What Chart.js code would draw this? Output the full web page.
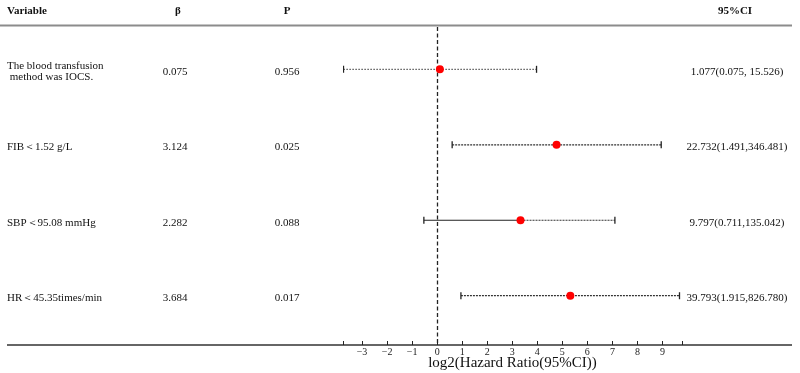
<!DOCTYPE html>
<html>
<head>
<meta charset="utf-8">
<script src="https://cdn.jsdelivr.net/npm/chart.js@4.4.0/dist/chart.umd.min.js"></script>
<style>
  html, body { margin: 0; padding: 0; background: #fff; }
  #wrap { width: 800px; height: 373px; position: relative; }
</style>
</head>
<body>
<div id="wrap"><canvas id="forest"></canvas></div>
<script>
// table columns
const variables = [['The blood transfusion', ' method was IOCS.'], ['FIB＜1.52 g/L'], ['SBP＜95.08 mmHg'], ['HR＜45.35times/min']];
const betas = ['0.075', '3.124', '2.282', '3.684'];
const pValues = ['0.956', '0.025', '0.088', '0.017'];
const ciLabels = ['1.077(0.075, 15.526)', '22.732(1.491,346.481)', '9.797(0.711,135.042)', '39.793(1.915,826.780)'];

// log2(HR) and CI ends
const log2HR = [0.11, 4.77, 3.33, 5.32];
const log2Lower = [-3.74, 0.6, -0.53, 0.95];
const log2Upper = [3.97, 8.95, 7.1, 9.68];

// x axis
const tickValues = [-3, -2, -1, 0, 1, 2, 3, 4, 5, 6, 7, 8, 9];
const axisMin = -3.76;
const axisMax = 9.78;

// line styles per row (SBP has a solid left half)
const dashes = [[1.2, 1.8], [2, 1], [2, 1], [2, 1]];
const solidLeft = [false, false, true, false];

const serif = 'Liberation Serif';

const whiskers = variables.map(function(v, i) {
  return {
    type: 'line',
    order: 1,
    data: [{x: log2Lower[i], y: i}, {x: log2HR[i], y: i}, {x: log2Upper[i], y: i}],
    borderColor: '#333',
    borderWidth: 1.2,
    borderDash: dashes[i],
    segment: {
      borderDash: ctx => (solidLeft[i] && ctx.p0DataIndex === 0) ? [] : dashes[i],
      borderColor: ctx => (solidLeft[i] && ctx.p0DataIndex === 0) ? '#222' : '#333'
    },
    pointStyle: 'line',
    pointRotation: 90,
    pointRadius: [3.5, 0, 3.5],
    pointBorderColor: '#222',
    pointBorderWidth: 1.3,
    fill: false,
    tension: 0
  };
});

const dots = {
  type: 'scatter',
  order: 0,
  data: log2HR.map((x, i) => ({x: x, y: i})),
  pointRadius: 4,
  pointBackgroundColor: '#ff0000',
  pointBorderWidth: 0
};

// table text, rules, zero line and tick marks
const tablePlugin = {
  id: 'table',
  beforeDatasetsDraw(chart) {
    const ctx = chart.ctx;
    const x = chart.scales.x;
    const area = chart.chartArea;
    const px = Math.round(x.getPixelForValue(0)) + 0.5;
    ctx.save();
    ctx.strokeStyle = '#222';
    ctx.lineWidth = 1.3;
    ctx.setLineDash([4, 2.5]);
    ctx.beginPath();
    ctx.moveTo(px, area.top + 1);
    ctx.lineTo(px, area.bottom);
    ctx.stroke();
    ctx.restore();
  },
  afterDraw(chart) {
    const ctx = chart.ctx;
    const x = chart.scales.x;
    const y = chart.scales.y;
    const area = chart.chartArea;
    ctx.save();

    // rules
    ctx.lineWidth = 2;
    ctx.strokeStyle = '#8c8c8c';
    ctx.beginPath();
    ctx.moveTo(0, 25.5);
    ctx.lineTo(792, 25.5);
    ctx.stroke();
    ctx.strokeStyle = '#666';
    ctx.beginPath();
    ctx.moveTo(7, area.bottom);
    ctx.lineTo(792, area.bottom);
    ctx.stroke();

    // tick marks pointing up
    ctx.lineWidth = 1;
    ctx.strokeStyle = '#222';
    x.ticks.forEach(function(t) {
      const px = Math.round(x.getPixelForValue(t.value)) + 0.5;
      ctx.beginPath();
      ctx.moveTo(px, area.bottom - 4);
      ctx.lineTo(px, area.bottom);
      ctx.stroke();
    });

    // header
    ctx.fillStyle = '#111';
    ctx.textBaseline = 'middle';
    ctx.font = 'bold 11px "' + serif + '"';
    ctx.textAlign = 'left';
    ctx.fillText('Variable', 7, 11);
    ctx.textAlign = 'center';
    ctx.fillText('β', 178, 11);
    ctx.fillText('P', 287, 11);
    ctx.fillText('95%CI', 735, 11);

    // rows
    ctx.font = '11px "' + serif + '"';
    variables.forEach(function(lines, i) {
      const py = y.getPixelForValue(i) + 2.5;
      ctx.textAlign = 'left';
      lines.forEach(function(s, k) {
        ctx.fillText(s, 7, py + (k - (lines.length - 1) / 2) * 11);
      });
      ctx.textAlign = 'center';
      ctx.fillText(betas[i], 175, py);
      ctx.fillText(pValues[i], 287, py);
      ctx.fillText(ciLabels[i], 737, py);
    });
    ctx.restore();
  }
};

new Chart(document.getElementById('forest'), {
  data: { datasets: [dots].concat(whiskers) },
  options: {
    responsive: true,
    maintainAspectRatio: false,
    animation: false,
    layout: { padding: { left: 343, right: 118, top: 26, bottom: 1 } },
    plugins: { legend: { display: false }, tooltip: { enabled: false } },
    scales: {
      x: {
        type: 'linear',
        min: axisMin,
        max: axisMax,
        afterBuildTicks: function(s) {
          s.ticks = [axisMin].concat(tickValues, [axisMax]).map(v => ({value: v}));
        },
        afterFit: function(s) { s.height = 27; },
        ticks: {
          autoSkip: false,
          maxRotation: 0,
          padding: 1,
          color: '#222',
          font: { family: serif, size: 10 },
          callback: v => Number.isInteger(v) ? (v < 0 ? '\u2212' + Math.abs(v) : String(v)) : ''
        },
        grid: { display: false, drawTicks: false },
        border: { display: false },
        title: {
          display: true,
          text: 'log2(Hazard Ratio(95%CI))',
          color: '#111',
          font: { family: serif, size: 15 },
          padding: 0
        }
      },
      y: { type: 'linear', display: false, reverse: true, min: -0.574, max: 3.653 }
    }
  },
  plugins: [tablePlugin]
});
</script>
</body>
</html>
